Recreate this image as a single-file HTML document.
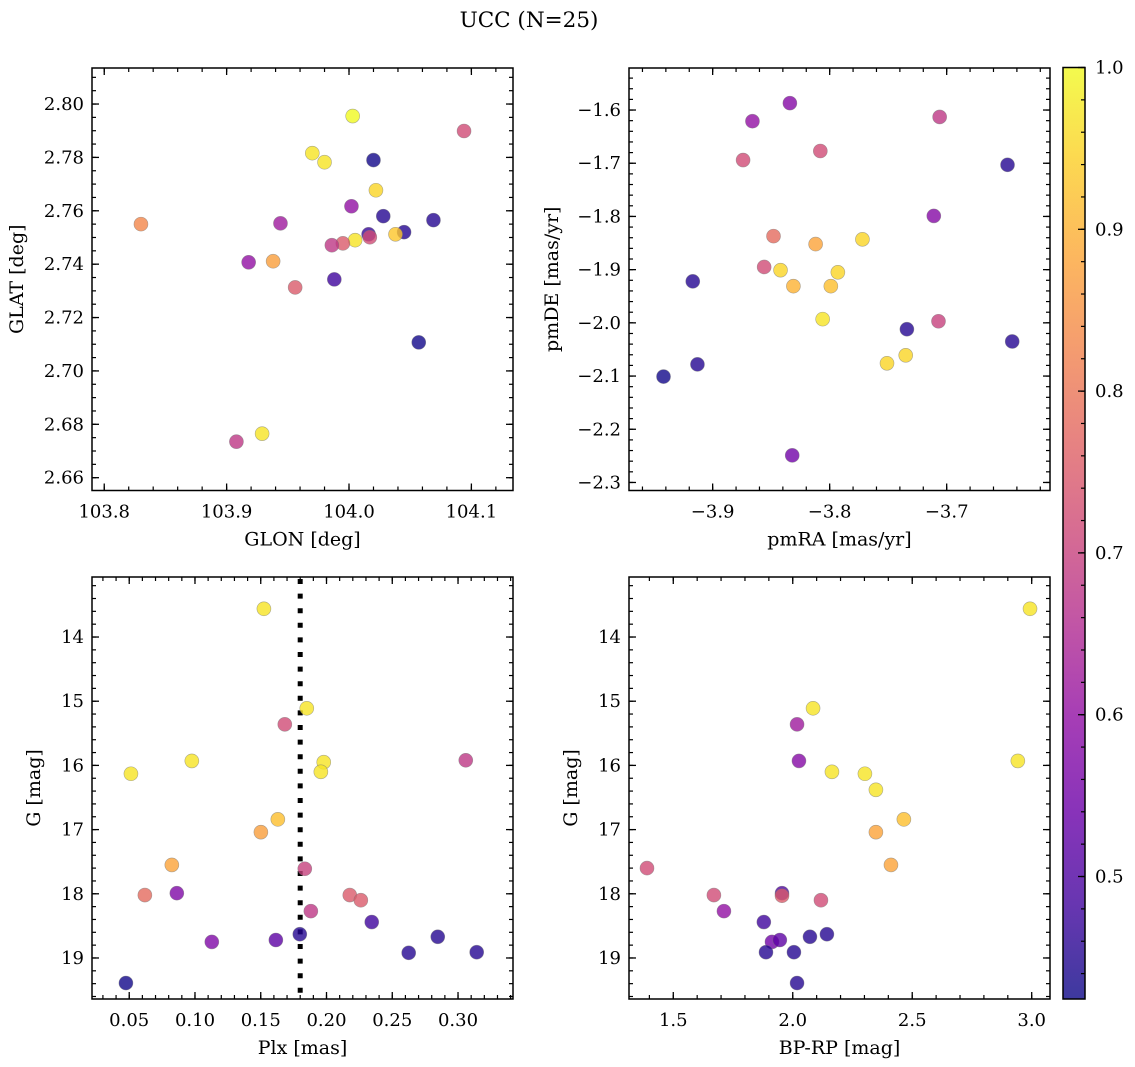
<!DOCTYPE html>
<html><head><meta charset="utf-8"><style>
html,body{margin:0;padding:0;background:#fff;}
svg{display:block;font-family:"DejaVu Serif","Liberation Serif",serif;}
</style></head><body>
<svg id="fig" width="1135" height="1067" viewBox="0 0 1135 1067" xmlns="http://www.w3.org/2000/svg">
<defs>
<linearGradient id="cbgrad" x1="0" y1="1" x2="0" y2="0">
<stop offset="0" stop-color="#0d0887"/><stop offset="0.1" stop-color="#41049d"/><stop offset="0.2" stop-color="#6a00a8"/><stop offset="0.3" stop-color="#8f0da4"/><stop offset="0.4" stop-color="#b12a90"/><stop offset="0.5" stop-color="#cc4778"/><stop offset="0.6" stop-color="#e16462"/><stop offset="0.7" stop-color="#f2844b"/><stop offset="0.8" stop-color="#fca636"/><stop offset="0.9" stop-color="#fcce25"/><stop offset="1" stop-color="#f0f921"/>
</linearGradient>
</defs>
<text x="529" y="27" font-size="21.5" text-anchor="middle">UCC (N=25)</text>
</svg>
<script>
// ---- data ----
const glon = [103.830,104.003,103.970,103.980,104.020,104.022,104.094,104.002,104.028,103.944,104.069,104.045,104.038,104.016,104.017,104.005,103.995,103.986,103.918,103.938,103.988,103.956,104.057,103.908,103.929];
const glat = [2.755,2.7955,2.7816,2.7782,2.7790,2.7677,2.7899,2.7617,2.7580,2.7553,2.7565,2.7520,2.7512,2.7512,2.7501,2.7490,2.7478,2.7471,2.7407,2.7411,2.7343,2.7313,2.7107,2.6735,2.6765];
const probTL = [0.83,1.0,0.97,0.97,0.43,0.95,0.72,0.6,0.45,0.62,0.45,0.45,0.93,0.47,0.72,0.97,0.75,0.68,0.6,0.87,0.48,0.75,0.43,0.68,0.97];

const pmra = [-3.834,-3.866,-3.706,-3.874,-3.808,-3.648,-3.711,-3.848,-3.812,-3.772,-3.856,-3.842,-3.793,-3.831,-3.799,-3.917,-3.806,-3.707,-3.734,-3.735,-3.751,-3.913,-3.644,-3.942,-3.832];
const pmde = [-1.587,-1.621,-1.613,-1.694,-1.677,-1.703,-1.799,-1.837,-1.852,-1.843,-1.895,-1.901,-1.905,-1.931,-1.931,-1.922,-1.993,-1.997,-2.012,-2.061,-2.076,-2.078,-2.035,-2.101,-2.249];
const probTR = [0.58,0.6,0.68,0.72,0.72,0.45,0.58,0.78,0.88,0.95,0.72,0.95,0.95,0.9,0.92,0.45,0.97,0.7,0.45,0.95,0.95,0.45,0.45,0.43,0.55];

const plx = [0.1524,0.1683,0.1850,0.1979,0.1957,0.0976,0.0513,0.3059,0.1630,0.1501,0.0824,0.0619,0.0862,0.1835,0.1881,0.2177,0.2261,0.2344,0.1797,0.1615,0.1128,0.2846,0.2625,0.3142,0.0475];
const gmagBL = [13.56,15.36,15.11,15.95,16.10,15.93,16.13,15.92,16.84,17.04,17.55,18.02,17.99,17.61,18.27,18.02,18.10,18.44,18.63,18.72,18.75,18.67,18.92,18.91,19.39];
const probBL = [0.97,0.72,0.97,0.97,0.97,0.97,0.97,0.68,0.92,0.87,0.88,0.78,0.57,0.7,0.68,0.75,0.75,0.48,0.45,0.52,0.57,0.45,0.45,0.45,0.43];
const plxLine = [0.18];

const bprp = [2.993,2.085,2.018,2.164,2.942,2.026,2.302,2.348,2.465,2.348,2.411,1.390,1.670,1.955,1.955,2.118,1.712,1.879,2.143,2.072,1.913,1.946,1.888,2.005,2.018];
const gmagBR = [13.56,15.11,15.36,16.10,15.93,15.93,16.13,16.38,16.84,17.04,17.55,17.60,18.02,17.99,18.03,18.10,18.27,18.44,18.63,18.67,18.75,18.72,18.91,18.91,19.39];
const probBR = [0.97,0.97,0.62,0.97,0.97,0.58,0.97,0.97,0.92,0.88,0.88,0.72,0.72,0.5,0.75,0.72,0.6,0.48,0.45,0.45,0.55,0.52,0.45,0.45,0.45];

const ticksGLON = [103.8,103.9,104.0,104.1];
const ticksGLAT = [2.66,2.68,2.70,2.72,2.74,2.76,2.78,2.80];
const ticksPMRA = [-3.9,-3.8,-3.7];
const ticksPMDE = [-2.3,-2.2,-2.1,-2.0,-1.9,-1.8,-1.7,-1.6];
const ticksPLX = [0.05,0.10,0.15,0.20,0.25,0.30];
const ticksG = [14,15,16,17,18,19];
const ticksBPRP = [1.5,2.0,2.5,3.0];
const ticksCB = [0.5,0.6,0.7,0.8,0.9,1.0];
const cbRange = [0.4243,1.0];

// ---- drawing ----
const NS='http://www.w3.org/2000/svg';
const svg=document.getElementById('fig');
const TF=18, LF=19;
function mk(tag,attrs,parent){const e=document.createElementNS(NS,tag);for(const k in attrs)e.setAttribute(k,attrs[k]);(parent||svg).appendChild(e);return e;}
const stops=[[0,13,8,135],[0.1,65,4,157],[0.2,106,0,168],[0.3,143,13,164],[0.4,177,42,144],[0.5,204,71,120],[0.6,225,100,98],[0.7,242,132,75],[0.8,252,166,54],[0.9,252,206,37],[1,240,249,33]];
function plasma(t){t=Math.max(0,Math.min(1,t));for(let i=1;i<stops.length;i++){if(t<=stops[i][0]){const a=stops[i-1],b=stops[i],f=(t-a[0])/(b[0]-a[0]);return 'rgb('+[1,2,3].map(j=>Math.round(a[j]+f*(b[j]-a[j]))).join(',')+')';}}return 'rgb(240,249,33)';}
function fmt(v,d){const s=Math.abs(v).toFixed(d);return (v<0?'\u2212':'')+s;}

function panel(o){
  const g=mk('g',{});
  
  
  const sx=v=>o.x0+(v-o.xd[0])/(o.xd[1]-o.xd[0])*(o.x1-o.x0);
  const sy=v=>o.inv? o.y0+(v-o.yd[0])/(o.yd[1]-o.yd[0])*(o.y1-o.y0) : o.y1-(v-o.yd[0])/(o.yd[1]-o.yd[0])*(o.y1-o.y0);
  const mt=mk('g',{stroke:'#000','stroke-width':1.2},g);
  
  
  const lo=Math.min(...o.xd),hi=Math.max(...o.xd);
  for(let v=Math.ceil(lo/o.xm-1e-6)*o.xm; v<=hi+1e-9; v+=o.xm){const X=sx(v);mk('line',{x1:X,x2:X,y1:o.y1,y2:o.y1-4},mt);mk('line',{x1:X,x2:X,y1:o.y0,y2:o.y0+4},mt);}
  const ylo=Math.min(...o.yd),yhi=Math.max(...o.yd);
  for(let v=Math.ceil(ylo/o.ym-1e-6)*o.ym; v<=yhi+1e-9; v+=o.ym){const Y=sy(v);mk('line',{x1:o.x0,x2:o.x0+4,y1:Y,y2:Y},mt);mk('line',{x1:o.x1,x2:o.x1-4,y1:Y,y2:Y},mt);}
  o.xt.forEach(v=>{const X=sx(v);
    mk('line',{x1:X,x2:X,y1:o.y1,y2:o.y1-7,stroke:'#000','stroke-width':1.3},g);
    mk('line',{x1:X,x2:X,y1:o.y0,y2:o.y0+7,stroke:'#000','stroke-width':1.3},g);
    const t=mk('text',{x:X,y:o.y1+27,'font-size':TF,'text-anchor':'middle'},g);t.textContent=fmt(v,o.xdec);
    
    });
  o.yt.forEach(v=>{const Y=sy(v);
    mk('line',{x1:o.x0,x2:o.x0+7,y1:Y,y2:Y,stroke:'#000','stroke-width':1.3},g);
    mk('line',{x1:o.x1,x2:o.x1-7,y1:Y,y2:Y,stroke:'#000','stroke-width':1.3},g);
    const t=mk('text',{x:o.x0-8,y:Y+6,'font-size':TF,'text-anchor':'end'},g);t.textContent=fmt(v,o.ydec);
    
    });
  if(o.vline!==undefined){const X=sx(o.vline);const l=mk('line',{x1:X,x2:X,y1:o.y0+2,y2:o.y1,stroke:'#000','stroke-width':5,'stroke-dasharray':'5,9.6'},g);
    
    }
  o.xs.forEach((v,i)=>{const c=mk('circle',{cx:sx(v),cy:sy(o.ys[i]),r:7,fill:plasma((o.cs[i]-cbRange[0])/(cbRange[1]-cbRange[0])),'fill-opacity':0.8,stroke:'#777','stroke-opacity':0.6,'stroke-width':0.6},g);
    
    });
  const fr=mk('rect',{x:o.x0,y:o.y0,width:o.x1-o.x0,height:o.y1-o.y0,fill:'none',stroke:'#000','stroke-width':1.5},g);
  
  
  const xl=mk('text',{x:(o.x0+o.x1)/2,y:o.y1+55,'font-size':LF,'text-anchor':'middle'},g);xl.textContent=o.xlab;
  
  
  const yx=o.ylx, yy=(o.y0+o.y1)/2;
  const yl=mk('text',{x:yx,y:yy,'font-size':LF,'text-anchor':'middle',transform:'rotate(-90 '+yx+' '+yy+')'},g);yl.textContent=o.ylab;
  
  
}

panel({name:'glon-glat-panel',x0:92,x1:513,y0:68,y1:490.5,xd:[103.79,104.134],yd:[2.6552,2.8135],xt:ticksGLON,yt:ticksGLAT,xm:0.02,ym:0.005,xdec:1,ydec:2,xs:glon,ys:glat,cs:probTL,xlab:'GLON [deg]',ylab:'GLAT [deg]',ylx:23});
panel({name:'pm-panel',x0:629,x1:1050,y0:68,y1:490.5,xd:[-3.9715,-3.6117],yd:[-2.3151,-1.521],xt:ticksPMRA,yt:ticksPMDE,xm:0.02,ym:0.02,xdec:1,ydec:1,xs:pmra,ys:pmde,cs:probTR,xlab:'pmRA [mas/yr]',ylab:'pmDE [mas/yr]',ylx:558});
panel({name:'plx-g-panel',x0:92,x1:513,y0:577,y1:999,xd:[0.0217,0.3418],yd:[13.065,19.639],inv:true,xt:ticksPLX,yt:ticksG,xm:0.01,ym:0.2,xdec:2,ydec:0,xs:plx,ys:gmagBL,cs:probBL,vline:plxLine[0],xlab:'Plx [mas]',ylab:'G [mag]',ylx:40});
panel({name:'cmd-panel',x0:629,x1:1050,y0:577,y1:999,xd:[1.3147,3.0766],yd:[13.065,19.639],inv:true,xt:ticksBPRP,yt:ticksG,xm:0.1,ym:0.2,xdec:1,ydec:0,xs:bprp,ys:gmagBR,cs:probBR,xlab:'BP-RP [mag]',ylab:'G [mag]',ylx:577});

// colorbar
const cb=mk('g',{});


const cx0=1063,cx1=1085,cy0=67.5,cy1=999;
mk('rect',{x:cx0,y:cy0,width:cx1-cx0,height:cy1-cy0,fill:'url(#cbgrad)','fill-opacity':0.8},cb);
const csy=v=>cy1-(v-cbRange[0])/(cbRange[1]-cbRange[0])*(cy1-cy0);
for(let v=0.44;v<=1.0001;v+=0.02){const Y=csy(v);mk('line',{x1:cx1,x2:cx1-4,y1:Y,y2:Y,stroke:'#000','stroke-width':1.2},cb);}
ticksCB.forEach(v=>{const Y=csy(v);mk('line',{x1:cx1,x2:cx1-7,y1:Y,y2:Y,stroke:'#000','stroke-width':1.3},cb);
  const t=mk('text',{x:cx1+10,y:Y+6,'font-size':TF},cb);t.textContent=v.toFixed(1);
  
  });
mk('rect',{x:cx0,y:cy0,width:cx1-cx0,height:cy1-cy0,fill:'none',stroke:'#000','stroke-width':1.5},cb);
</script>
</body></html>
